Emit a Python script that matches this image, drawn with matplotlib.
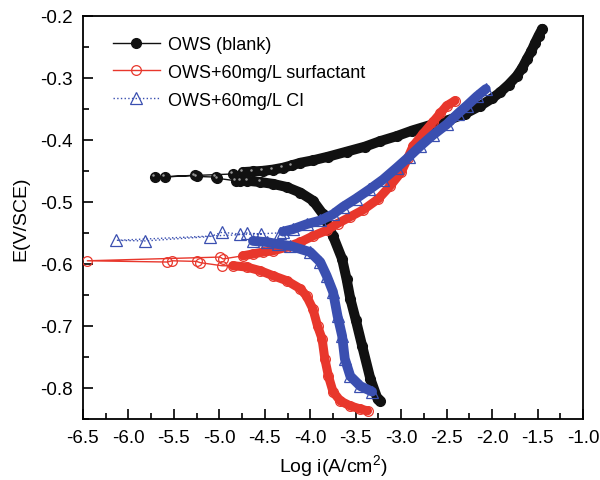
import matplotlib
matplotlib.use('Agg')
import matplotlib.pyplot as plt
from matplotlib.transforms import offset_copy
import numpy as np

plt.rcParams['font.family'] = ['Liberation Sans', 'DejaVu Sans']
plt.rcParams['axes.unicode_minus'] = False
plt.rcParams['mathtext.default'] = 'regular'

## Polarisation data : log i (A/cm2) and E (V/SCE)

# OWS (blank)
blank_cat_x = [-3.23, -3.26, -3.34, -3.43, -3.50, -3.56, -3.60, -3.65, -3.75, -3.86, -3.97, -4.11, -4.26, -4.41, -4.55, -4.69, -4.77]
blank_cat_y = [-0.821, -0.818, -0.785, -0.732, -0.690, -0.656, -0.625, -0.592, -0.555, -0.520, -0.498, -0.485, -0.476, -0.471, -0.468, -0.466, -0.466]
blank_mid_x = [-4.82, -5.02, -5.04, -5.25, -5.27, -5.60, -5.71, -4.85]
blank_mid_y = [-0.466, -0.462, -0.460, -0.459, -0.457, -0.460, -0.460, -0.455]
blank_an_x = [-4.74, -4.63, -4.52, -4.41, -4.30, -4.20, -4.11, -3.97, -3.80, -3.60, -3.40, -3.23, -3.05, -2.88, -2.70,
              -2.48, -2.30, -2.13, -2.00, -1.91, -1.82, -1.73, -1.67, -1.62, -1.57, -1.53, -1.49, -1.45]
blank_an_y = [-0.452, -0.451, -0.450, -0.448, -0.445, -0.441, -0.437, -0.433, -0.427, -0.419, -0.411, -0.402, -0.394, -0.385, -0.377,
              -0.368, -0.358, -0.345, -0.333, -0.323, -0.311, -0.297, -0.284, -0.270, -0.257, -0.244, -0.232, -0.221]

# OWS + 60 mg/L surfactant
surf_cat_x = [-3.37, -3.45, -3.56, -3.67, -3.75, -3.80, -3.84, -3.87, -3.92, -3.97, -4.04, -4.11, -4.26, -4.41, -4.55, -4.70, -4.85]
surf_cat_y = [-0.837, -0.834, -0.829, -0.821, -0.806, -0.781, -0.753, -0.721, -0.700, -0.673, -0.652, -0.640, -0.627, -0.619, -0.611, -0.605, -0.603]
surf_mid_x = [-4.97, -5.21, -5.25, -5.52, -5.57, -6.45, -4.99, -4.96]
surf_mid_y = [-0.603, -0.598, -0.596, -0.595, -0.597, -0.595, -0.589, -0.592]
surf_an_x = [-4.74, -4.63, -4.52, -4.41, -4.26, -4.11, -3.97, -3.82, -3.70, -3.56, -3.42, -3.25, -3.12, -3.00, -2.93,
             -2.87, -2.76, -2.65, -2.57, -2.50, -2.41]
surf_an_y = [-0.587, -0.584, -0.581, -0.579, -0.573, -0.565, -0.555, -0.546, -0.535, -0.524, -0.513, -0.495, -0.474, -0.452, -0.430,
             -0.410, -0.390, -0.371, -0.357, -0.345, -0.337]

# OWS + 60 mg/L CI
ci_cat_x = [-3.32, -3.45, -3.56, -3.62, -3.65, -3.70, -3.75, -3.82, -3.89, -4.00, -4.22, -4.36, -4.47, -4.63]
ci_cat_y = [-0.806, -0.797, -0.781, -0.753, -0.716, -0.684, -0.645, -0.619, -0.597, -0.581, -0.571, -0.568, -0.565, -0.563]
ci_mid_x = [-4.54, -4.69, -4.77, -4.97, -5.10, -5.82, -6.13, -4.33]
ci_mid_y = [-0.552, -0.550, -0.552, -0.549, -0.556, -0.563, -0.562, -0.550]
ci_an_x = [-4.30, -4.19, -4.04, -3.89, -3.75, -3.64, -3.50, -3.35, -3.20, -3.05, -2.92, -2.79, -2.65, -2.50, -2.38, -2.28, -2.17, -2.07]
ci_an_y = [-0.548, -0.544, -0.536, -0.530, -0.520, -0.508, -0.495, -0.480, -0.464, -0.445, -0.428, -0.410, -0.392, -0.375, -0.358, -0.345, -0.330, -0.318]

xticks = [-6.5, -6.0, -5.5, -5.0, -4.5, -4.0, -3.5, -3.0, -2.5, -2.0, -1.5, -1.0]
yticks = [-0.8, -0.7, -0.6, -0.5, -0.4, -0.3, -0.2]

## Figure

fig = plt.figure(figsize=(6, 4.81), dpi=100)
ax = fig.add_axes([0.138, 0.127, 0.834, 0.838])

def courbe(cx, cy, mx, my, axx, ay, col, lw_band, **kw):
	x = cx + mx + axx
	y = cy + my + ay
	# bande dense des mesures
	ax.plot(cx, cy, color=col, lw=lw_band, solid_capstyle='round', solid_joinstyle='round', zorder=kw.get('zorder', 2) - 0.5)
	ax.plot(axx, ay, color=col, lw=lw_band, solid_capstyle='round', solid_joinstyle='round', zorder=kw.get('zorder', 2) - 0.5)
	return ax.plot(x, y, color=col, **kw)

courbe(blank_cat_x, blank_cat_y, blank_mid_x, blank_mid_y, blank_an_x, blank_an_y, '#111111', 7.2,
       lw=1, marker='o', ms=7, mfc='#111111', mec='#111111', label='OWS (blank)', zorder=2)
# reflet sur les billes
tr = offset_copy(ax.transData, fig=fig, x=-1.2, y=1.2, units='points')
ax.plot(blank_mid_x + blank_an_x[:6] + blank_cat_x[-3:], blank_mid_y + blank_an_y[:6] + blank_cat_y[-3:],
        ls='none', marker='o', ms=1.8, mfc='#9a9a9a', mec='none', transform=tr, zorder=2.1)

courbe(surf_cat_x, surf_cat_y, surf_mid_x, surf_mid_y, surf_an_x, surf_an_y, '#e8372c', 6.5,
       lw=1, marker='o', ms=7, mfc='none', mec='#e8372c', mew=0.9, label='OWS+60mg/L surfactant', zorder=3)
courbe(ci_cat_x, ci_cat_y, ci_mid_x, ci_mid_y, ci_an_x, ci_an_y, '#3a4fb0', 7,
       lw=1, ls=':', marker='^', ms=8, mfc='none', mec='#3a4fb0', mew=0.9, label='OWS+60mg/L CI', zorder=4)

ax.set_xlim(-6.5, -1.0)
ax.set_ylim(-0.85, -0.2)
ax.set_xticks(xticks)
ax.set_yticks(yticks)
ax.set_xticklabels(['%.1f' % v for v in xticks])
ax.set_yticklabels(['%.1f' % v for v in yticks])
ax.set_xticks(np.arange(-6.25, -1.0, 0.5), minor=True)
ax.set_yticks([-0.85, -0.75, -0.65, -0.55, -0.45, -0.35, -0.25], minor=True)
ax.tick_params(which='both', direction='in', labelsize=13.5, width=1.2)
ax.tick_params(which='major', length=7, pad=7)
ax.tick_params(which='minor', length=4)
for s in ax.spines.values():
	s.set_linewidth(1.3)

ax.set_xlabel('Log i(A/cm$^2$)', fontsize=14, labelpad=5)
ax.set_ylabel('E(V/SCE)', fontsize=14, labelpad=8)

ax.legend(loc='upper left', bbox_to_anchor=(0.038, 0.977), frameon=False, fontsize=13,
          handlelength=2.6, handletextpad=0.45, labelspacing=0.6, borderaxespad=0.2)

fig.savefig('out.png', dpi=100)
